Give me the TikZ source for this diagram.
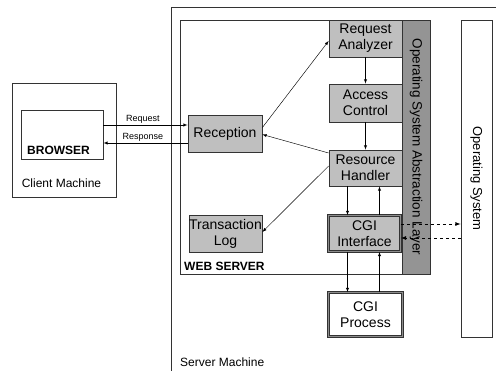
\documentclass[tikz,border=0pt]{standalone}
\usepackage{fontspec}
\setmainfont{Liberation Sans}
\begin{document}
\begin{tikzpicture}[x=1pt, y=-1pt, >=latex,
    every node/.style={inner sep=0pt, align=center},
    part/.style={draw=black!80, line width=0.8pt, fill=black!25, font=\fontsize{14}{16}\selectfont},
    twin/.style={part, double=black!45, double distance=0.8pt},
    frame/.style={draw=black!80, line width=0.8pt},
    small/.style={font=\fontsize{12}{14}\selectfont},
    tiny/.style={font=\fontsize{9}{10}\selectfont},
    link/.style={->, line width=0.45pt}]
  \useasboundingbox (0,0) rectangle (496,371);
  \draw[frame] (171,7) rectangle (505,380);
  \node[small, anchor=west] (servertxt) at (180,362) {Server Machine};
  \draw[frame] (12,83) rectangle (116,197);
  \node[frame, minimum width=82pt, minimum height=49pt] (browser) at (62,134.5) {};
  \node[small, anchor=west, font=\fontsize{12}{14}\selectfont\bfseries] (browsertxt) at (27,150) {BROWSER};
  \node[small] (clienttxt) at (61.5,183) {Client Machine};
  \draw[frame] (180,20) rectangle (430,274);
  \node[anchor=west, font=\fontsize{12}{14}\selectfont\bfseries] (webtxt) at (184,266) {WEB SERVER};
  \node[part, fill=black!42, minimum width=28pt, minimum height=254pt, font=\fontsize{13.5}{16}\selectfont] (osal) at (416,147)
    {\rotatebox{-90}{Operating System Abstraction Layer}};
  \node[part, minimum width=73pt, minimum height=37pt] (analyzer) at (365.5,38.5) {Request\\Analyzer};
  \node[part, minimum width=73pt, minimum height=38pt] (access) at (365.5,103) {Access\\Control};
  \node[part, minimum width=73pt, minimum height=36pt] (handler) at (365.5,168) {Resource\\Handler};
  \node[part, minimum width=74pt, minimum height=37pt] (reception) at (225,133.5) {Reception};
  \node[part, minimum width=73pt, minimum height=37pt] (log) at (225.5,233.5) {Transaction\\Log};
  \node[twin, minimum width=72pt, minimum height=36pt] (cgi) at (364.5,233.5) {CGI\\Interface};
  \node[twin, fill=white, minimum width=74pt, minimum height=44pt] (process) at (365.5,314.5) {CGI\\Process};
  \node[part, fill=white, minimum width=31pt, minimum height=317pt, font=\fontsize{13}{16}\selectfont] (os) at (476.5,178.5)
    {\rotatebox{-90}{Operating System}};
  \draw[link] ([yshift=9.5pt]browser.east) -- ([yshift=9.5pt]browser.east -| reception.west)
    node[tiny, pos=0.47, above=1.5pt] {Request};
  \draw[link] ([yshift=-8.5pt]browser.east -| reception.west) -- ([yshift=-8.5pt]browser.east)
    node[tiny, pos=0.53, above=1.5pt] {Response};
  \draw[link] ([yshift=6pt]reception.east) -- ([yshift=-2.5pt]analyzer.west);
  \draw[link] (analyzer) -- (access);
  \draw[link] (access) -- (handler);
  \draw[link] ([yshift=15pt]handler.west) -- ([yshift=-1pt]reception.east);
  \draw[link] ([yshift=2pt]handler.west) -- ([yshift=1.5pt]log.east);
  \draw[link] ([xshift=-18pt]handler.south) -- ([xshift=-18pt]handler.south |- cgi.north);
  \draw[link] ([xshift=14pt]handler.south |- cgi.north) -- ([xshift=14pt]handler.south);
  \draw[link] ([xshift=-18pt]handler.south |- cgi.south) -- ([xshift=-18pt]handler.south |- process.north);
  \draw[link] ([xshift=14pt]handler.south |- process.north) -- ([xshift=14pt]handler.south |- cgi.south);
  \draw[link, dashed, line width=0.8pt] ([yshift=9.5pt]cgi.east) -- ([yshift=9.5pt]cgi.east -| os.west);
  \draw[link, dashed, line width=0.8pt] ([yshift=-4.5pt]cgi.east -| os.west) -- ([yshift=-4.5pt]cgi.east);
\end{tikzpicture}
\end{document}
